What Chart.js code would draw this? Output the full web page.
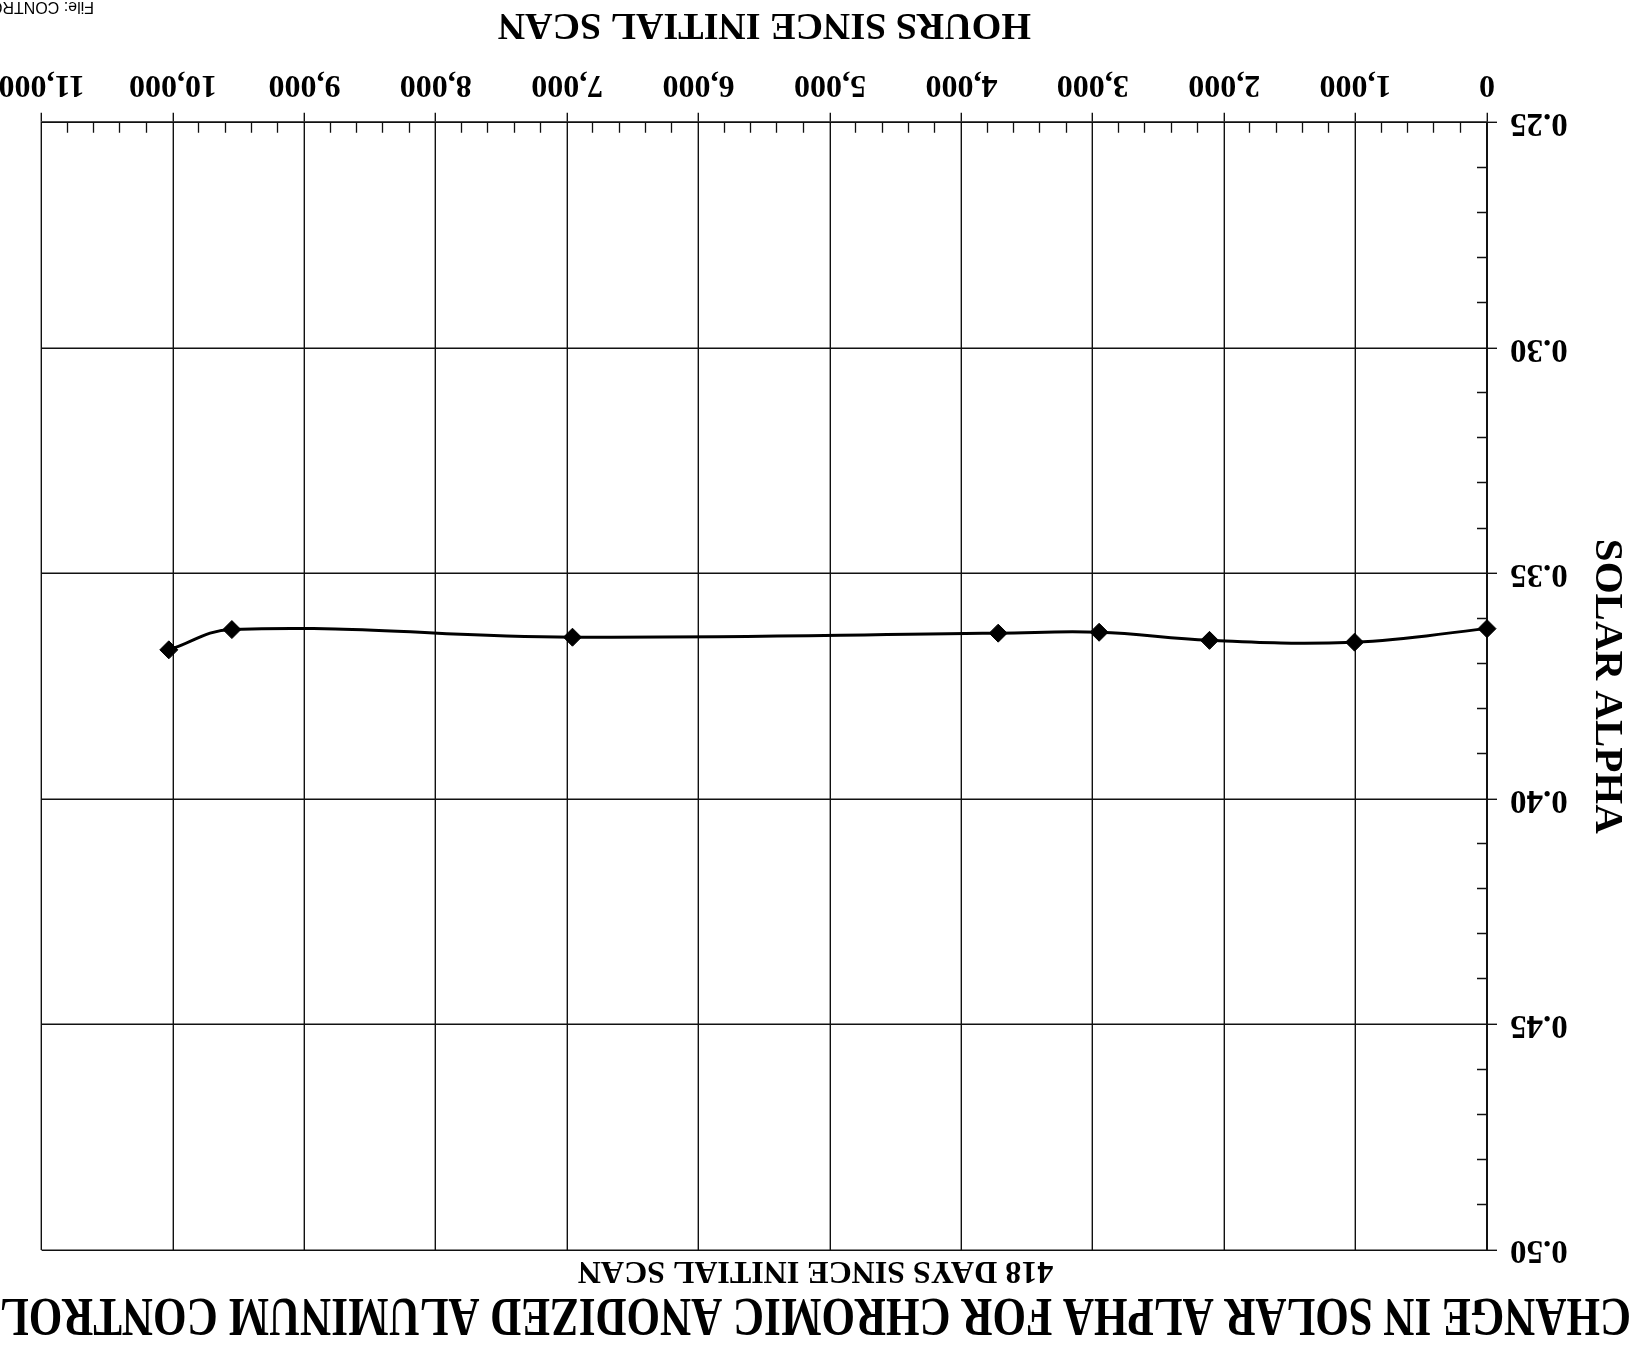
<!DOCTYPE html>
<html><head><meta charset="utf-8">
<script src="https://cdn.jsdelivr.net/npm/chart.js@4/dist/chart.umd.min.js"></script>
<style>
html,body{margin:0;padding:0;background:#fff;overflow:hidden;}
#wrap{width:1631px;height:1350px;transform:rotate(180deg);transform-origin:50% 50%;background:#fff;}
canvas{display:block}
</style></head><body>
<div id="wrap"><canvas id="c" width="1631" height="1350"></canvas></div>
<script>
// ---- data (read from the scanned, upside-down reference) ----
const hoursSinceScan = [0, 1008, 2112, 2952, 3720, 6960, 9552, 10032];
const solarAlpha = [0.3622, 0.3652, 0.3648, 0.3630, 0.3632, 0.3641, 0.3624, 0.3669];
const xTickLabels = ['0','1,000','2,000','3,000','4,000','5,000','6,000','7,000','8,000','9,000','10,000','11,000'];
const yTickLabels = ['0.25','0.30','0.35','0.40','0.45','0.50'];
const titleText = 'CHANGE IN SOLAR ALPHA FOR CHROMIC ANODIZED ALUMINUM CONTROL';
const subtitleText = '418 DAYS SINCE INITIAL SCAN';
const xAxisTitle = 'HOURS SINCE INITIAL SCAN';
const yAxisTitle = 'SOLAR ALPHA';
const fileNote = 'File: CONTROL';

const SERIF = '"Liberation Serif", "Times New Roman", Times, serif';
const INK = '#111';

const points = hoursSinceScan.map((h, i) => ({x: h, y: solarAlpha[i]}));

const minorTicks = {
  id: 'minorTicks',
  afterDraw(chart) {
    const {ctx, chartArea: a, scales: {x, y}} = chart;
    ctx.save();
    ctx.strokeStyle = INK;
    ctx.lineWidth = 1.3;
    ctx.beginPath();
    for (let v = 200; v < 11000; v += 200) {
      if (v % 1000 === 0) continue;
      const px = Math.round(x.getPixelForValue(v)) + 0.5;
      ctx.moveTo(px, a.bottom);
      ctx.lineTo(px, a.bottom - 10);
    }
    for (let i = 1; i < 25; i++) {
      if (i % 5 === 0) continue;
      const py = Math.round(y.getPixelForValue(0.25 + i * 0.01)) + 0.5;
      ctx.moveTo(a.left, py);
      ctx.lineTo(a.left + 10, py);
    }
    ctx.stroke();
    ctx.fillStyle = '#000';
    ctx.font = '16px "Liberation Sans", Arial, sans-serif';
    ctx.textAlign = 'left';
    ctx.textBaseline = 'alphabetic';
    ctx.fillText(fileNote, 1537, 1348);
    ctx.restore();
  }
};

new Chart(document.getElementById('c'), {
  type: 'scatter',
  data: {
    datasets: [{
      data: points,
      showLine: true,
      tension: 0.4,
      borderColor: '#000',
      borderWidth: 3,
      pointStyle: 'rectRot',
      pointRadius: 9,
      pointBackgroundColor: '#000',
      pointBorderColor: '#000',
      pointBorderWidth: 1,
      clip: false
    }]
  },
  options: {
    responsive: false,
    animation: false,
    devicePixelRatio: 1,
    layout: {padding: 0},
    plugins: {
      legend: {display: false},
      tooltip: {enabled: false},
      title: {
        display: true, text: titleText, color: '#000',
        font: {family: SERIF, size: 54, weight: 'bold', lineHeight: 1},
        padding: {top: 10, bottom: 0}
      },
      subtitle: {
        display: true, text: subtitleText, color: '#000',
        font: {family: SERIF, size: 32, weight: 'bold', lineHeight: 1},
        padding: {top: 0, bottom: 4}
      }
    },
    scales: {
      x: {
        type: 'linear', position: 'bottom', min: 0, max: 11000,
        ticks: {
          stepSize: 1000, autoSkip: false, maxRotation: 0, minRotation: 0,
          padding: 12, color: '#000',
          font: {family: SERIF, size: 32, weight: 'bold', lineHeight: 1},
          callback: (v) => xTickLabels[Math.round(v / 1000)]
        },
        grid: {color: INK, lineWidth: 1.4, tickLength: 10, tickColor: INK, drawTicks: true},
        border: {color: INK, width: 1.6},
        title: {
          display: true, text: xAxisTitle, color: '#000',
          font: {family: SERIF, size: 38, weight: 'bold', lineHeight: 1},
          padding: {top: 0, bottom: 5}
        },
        afterFit(s) { s.height = 122.7; s.paddingLeft = 0; s.paddingRight = 41.6; }
      },
      y: {
        type: 'linear', position: 'left', min: 0.25, max: 0.5,
        ticks: {
          stepSize: 0.05, padding: 13, color: '#000',
          font: {family: SERIF, size: 33, weight: 'bold', lineHeight: 1},
          callback: (v) => yTickLabels[Math.round((v - 0.25) / 0.05)]
        },
        grid: {color: INK, lineWidth: 1.4, tickLength: 10, tickColor: INK, drawTicks: true},
        border: {color: INK, width: 2},
        title: {
          display: true, text: yAxisTitle, color: '#000',
          font: {family: SERIF, size: 41, weight: 'bold', lineHeight: 1},
          padding: {top: 3.5, bottom: 0}
        },
        afterFit(s) { s.width = 144; s.paddingTop = 0; s.paddingBottom = 0; }
      }
    }
  },
  plugins: [minorTicks]
});
</script>
</body></html>
